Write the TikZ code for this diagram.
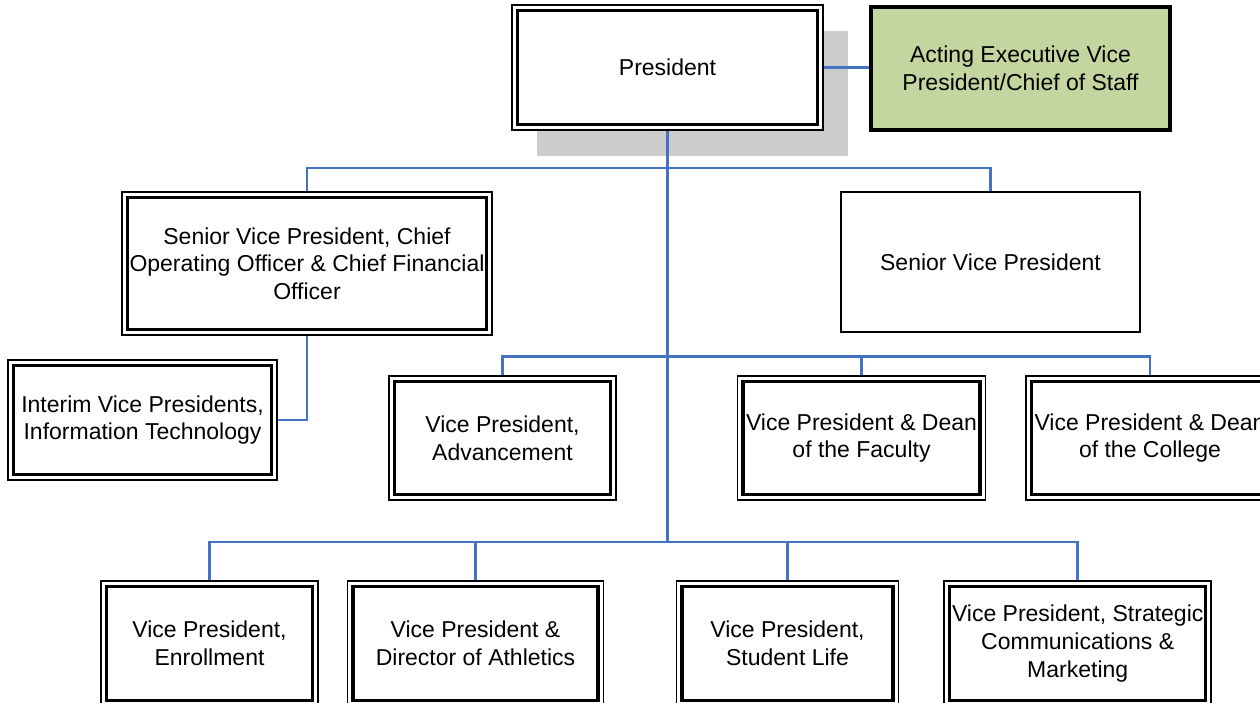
\documentclass[tikz,border=0pt]{standalone}
\usepackage{fontspec}
\setmainfont{Liberation Sans}
\usetikzlibrary{shadows}
\definecolor{linkblue}{RGB}{68,114,196}
\definecolor{staffgreen}{RGB}{196,214,159}

\begin{document}
\begin{tikzpicture}[x=1pt, y=-1pt,
  every node/.style={font=\fontsize{23}{27.7}\selectfont, align=center, inner sep=0pt},
  officebox/.style={draw, line width=1.5pt, fill=white,
    path picture={\draw[line width=3.2pt] ([shift={(5.5pt,-5.5pt)}]path picture bounding box.north west) rectangle ([shift={(-5.5pt,5.5pt)}]path picture bounding box.south east);}},
  plainbox/.style={draw, line width=1.8pt, fill=white},
  staffbox/.style={draw, line width=3.2pt, fill=staffgreen},
  link/.style={draw=linkblue, line width=2.5pt}]
\useasboundingbox (0,0) rectangle (1260,703);
\clip (0,0) rectangle (1260,703);
% Top level
\node[officebox, minimum width=311pt, minimum height=125pt,
  drop shadow={shadow xshift=25pt, shadow yshift=-26pt, fill=gray!40, opacity=1}] (pres) at (667.5,67.5) {President};
\node[staffbox, minimum width=299pt, minimum height=123pt] (act) at (1020.5,68.5) {Acting Executive Vice\\President/Chief of Staff};
% Senior vice presidents
\node[officebox, minimum width=370pt, minimum height=143pt] (svpcoo) at (307,263.5) {Senior Vice President, Chief\\Operating Officer \& Chief Financial\\Officer};
\node[plainbox, minimum width=299pt, minimum height=140pt] (svp) at (990.5,262) {Senior Vice President};
\node[officebox, minimum width=269pt, minimum height=120pt] (itvp) at (142.5,420) {Interim Vice Presidents,\\Information Technology};
% Vice presidents, middle row
\node[officebox, minimum width=227pt, minimum height=124pt] (adv) at (502.5,438) {Vice President,\\Advancement};
\node[officebox, minimum width=248pt, minimum height=124pt] (fac) at (861.5,438) {Vice President \& Dean\\of the Faculty};
\node[officebox, minimum width=248pt, minimum height=124pt] (col) at (1150,438) {Vice President \& Dean\\of the College};
% Vice presidents, bottom row
\node[officebox, minimum width=217pt, minimum height=125pt] (enr) at (209.5,643.5) {Vice President,\\Enrollment};
\node[officebox, minimum width=256pt, minimum height=125pt] (ath) at (475.5,643.5) {Vice President \&\\Director of Athletics};
\node[officebox, minimum width=222pt, minimum height=125pt] (stu) at (787.5,643.5) {Vice President,\\Student Life};
\node[officebox, minimum width=267pt, minimum height=125pt] (str) at (1077.7,643.5) {Vice President, Strategic\\Communications \&\\Marketing};
% Reporting lines
\coordinate (trunkend) at (667.5,543);
\draw[link] (pres.east) -- (pres.east -| act.west);
\draw[link] (pres.south) -- (trunkend);
\draw[link] (svpcoo.north) -- ++(0,-23) -| (svp.north);
\draw[link] (svpcoo.south) |- (itvp.east);
\draw[link] (adv.north) -- ++(0,-19) -| (col.north);
\draw[link] (fac.north) -- ++(0,-19);
\draw[link] (enr.north) -- ++(0,-38.5) -| (str.north);
\draw[link] (ath.north) -- ++(0,-38.5);
\draw[link] (stu.north) -- ++(0,-38.5);
\end{tikzpicture}
\end{document}
